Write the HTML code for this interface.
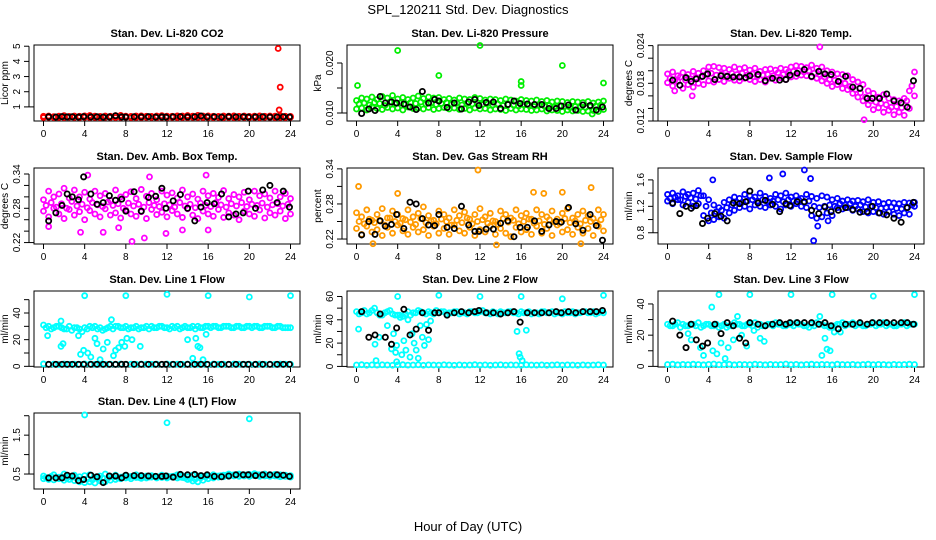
<!DOCTYPE html>
<html><head><meta charset="utf-8">
<style>
html,body{margin:0;padding:0;background:#fff;}
svg{display:block;font-family:"Liberation Sans",Arial,sans-serif;}
</style></head>
<body>
<svg id="chart" width="936" height="540" viewBox="0 0 936 540" xmlns="http://www.w3.org/2000/svg">
<rect width="936" height="540" fill="#fff"/>
<text x="468" y="14" text-anchor="middle" font-size="13">SPL_120211  Std. Dev. Diagnostics</text>
<text x="468" y="531" text-anchor="middle" font-size="13">Hour of Day (UTC)</text>
</svg>
<script>
const HOURS_C = [0,0.5,1,1.5,2,2.5,3,3.5,4,4.5,5,5.5,6,6.5,7,7.5,8,8.5,9,9.5,10,10.5,11,11.5,12,12.5,13,13.5,14,14.5,15,15.5,16,16.5,17,17.5,18,18.5,19,19.5,20,20.5,21,21.5,22,22.5,23,23.5,24];
const HOURS_Q = [0.25,0.75,1.25,1.75,2.25,2.75,3.25,3.75,4.25,4.75,5.25,5.75,6.25,6.75,7.25,7.75,8.25,8.75,9.25,9.75,10.25,10.75,11.25,11.75,12.25,12.75,13.25,13.75,14.25,14.75,15.25,15.75,16.25,16.75,17.25,17.75,18.25,18.75,19.25,19.75,20.25,20.75,21.25,21.75,22.25,22.75,23.25,23.75];
const HOURS_K = [0.5,1.2,1.8,2.3,2.8,3.4,3.9,4.6,5.2,5.8,6.4,7.0,7.6,8.0,8.8,9.5,10.2,10.9,11.5,11.9,12.6,13.3,14.0,14.7,15.3,15.9,16.6,17.3,18.0,18.7,19.4,19.9,20.6,21.3,22.0,22.7,23.3,23.9];
const X_TICKS = [0,4,8,12,16,20,24];

// CO2
const co2A = [0.38,0.4,0.36,0.39,0.42,0.37,0.4,0.38,0.41,0.43,0.39,0.37,0.4,0.38,0.42,0.44,0.39,0.37,0.4,0.41,0.38,0.37,0.4,0.42,0.39,0.38,0.41,0.4,0.43,0.39,0.44,0.4,0.41,0.38,0.37,0.4,0.39,0.41,0.38,0.4,0.37,0.39,0.41,0.38,0.4,0.39,0.42,0.38,0.37];
const co2B = [0.3,0.32,0.3,0.31,0.3,0.33,0.31,0.3,0.32,0.3,0.31,0.3,0.32,0.31,0.3,0.31,0.32,0.3,0.31,0.3,0.32,0.31,0.3,0.31,0.3,0.32,0.3,0.31,0.3,0.32,0.31,0.3,0.31,0.3,0.32,0.3,0.31,0.3,0.32,0.31,0.3,0.31,0.3,0.32,0.31,0.3,0.31,0.3,0.32];
const co2K = [0.35,0.33,0.36,0.34,0.35,0.33,0.36,0.34,0.35,0.33,0.34,0.42,0.34,0.33,0.35,0.34,0.36,0.33,0.34,0.33,0.35,0.36,0.34,0.35,0.4,0.34,0.35,0.33,0.36,0.34,0.35,0.33,0.34,0.35,0.33,0.34,0.35,0.33];
const co2Out = [[22.8,4.85],[23.0,2.3],[22.9,0.8]];

// Pressure
const presA = [0.0125,0.013,0.0128,0.0132,0.0127,0.0133,0.013,0.0135,0.0128,0.0131,0.0127,0.013,0.0134,0.0129,0.0132,0.013,0.0131,0.0127,0.0129,0.0126,0.013,0.0128,0.0127,0.0131,0.0129,0.0126,0.0128,0.0127,0.0125,0.0128,0.0126,0.0124,0.0127,0.0125,0.0124,0.0126,0.0123,0.0125,0.0122,0.0124,0.0123,0.0121,0.0123,0.0122,0.0121,0.0123,0.012,0.0122,0.0124];
const presB = [0.0108,0.011,0.0106,0.0112,0.0109,0.0107,0.0111,0.0108,0.011,0.0106,0.0112,0.0109,0.011,0.0108,0.0111,0.0107,0.0109,0.0111,0.0108,0.011,0.0107,0.0109,0.0106,0.011,0.0108,0.0109,0.0106,0.0108,0.0107,0.0105,0.0109,0.0106,0.0108,0.0107,0.0105,0.0106,0.0108,0.0104,0.0106,0.0105,0.0103,0.0106,0.0104,0.0105,0.0103,0.0104,0.0105,0.0103,0.0107];
const presC = [0.0118,0.012,0.0116,0.0121,0.0119,0.0115,0.0122,0.0118,0.012,0.0117,0.0121,0.0119,0.0122,0.0118,0.012,0.0117,0.0119,0.0121,0.0118,0.012,0.0116,0.0119,0.0118,0.012,0.0117,0.0119,0.0116,0.0118,0.0115,0.0117,0.0116,0.0114,0.0117,0.0115,0.0113,0.0116,0.0114,0.0115,0.0112,0.0114,0.0113,0.0111,0.0113,0.0112,0.0111,0.0113,0.0114,0.0116];
const presK = [0.0099,0.0108,0.0105,0.0133,0.012,0.0122,0.012,0.0118,0.0112,0.0107,0.0143,0.012,0.0127,0.0124,0.0111,0.012,0.0108,0.0122,0.0127,0.0115,0.0121,0.0122,0.0109,0.0117,0.0124,0.0119,0.0118,0.0117,0.0117,0.0109,0.0109,0.0114,0.0116,0.0106,0.0116,0.0115,0.0106,0.0112];
const presOut = [[0.1,0.0155],[4,0.0225],[8,0.0175],[12,0.0235],[16,0.0163],[16,0.0155],[20,0.0195],[24,0.016],[22.9,0.0098]];

// Li-820 Temp
const ltA = [0.0195,0.0198,0.0192,0.0197,0.0194,0.0199,0.0196,0.02,0.0206,0.0207,0.0205,0.0204,0.0202,0.0206,0.0203,0.0205,0.0201,0.0204,0.0199,0.0202,0.0203,0.0201,0.0204,0.0202,0.0206,0.0208,0.0207,0.0205,0.0209,0.0204,0.0206,0.02,0.0198,0.0195,0.0194,0.0192,0.0186,0.0182,0.0178,0.0168,0.0164,0.0158,0.0162,0.0156,0.0154,0.0152,0.0156,0.0168,0.0198];
const ltB = [0.0181,0.0176,0.0183,0.0172,0.0178,0.0174,0.018,0.0178,0.0184,0.0182,0.0186,0.0183,0.0188,0.0185,0.0184,0.0188,0.0186,0.0183,0.0186,0.0182,0.0188,0.0185,0.0189,0.0186,0.019,0.0191,0.0193,0.0192,0.019,0.0188,0.0184,0.018,0.0175,0.0178,0.0172,0.017,0.0164,0.0158,0.0152,0.0146,0.0138,0.0141,0.0134,0.0137,0.013,0.0134,0.0129,0.014,0.016];
const ltC = [0.0188,0.0186,0.019,0.0185,0.0187,0.0189,0.019,0.0194,0.0196,0.0193,0.0195,0.0192,0.0196,0.0194,0.0196,0.0193,0.0195,0.0191,0.0193,0.0194,0.0192,0.0197,0.0194,0.0198,0.0199,0.02,0.0198,0.02,0.0196,0.0194,0.019,0.0186,0.0185,0.0182,0.018,0.0175,0.017,0.0165,0.0158,0.0152,0.015,0.0148,0.0146,0.0142,0.0143,0.0141,0.0152,0.0176];
const ltK = [0.0185,0.0177,0.0189,0.0183,0.0187,0.0191,0.0195,0.0186,0.0192,0.0191,0.019,0.019,0.0189,0.0192,0.0194,0.0184,0.0188,0.0185,0.0186,0.0193,0.0196,0.0202,0.0191,0.0199,0.0195,0.0194,0.0183,0.0191,0.0174,0.0172,0.0156,0.0156,0.0156,0.0163,0.0152,0.0149,0.0142,0.0184];
const ltOut = [[14.8,0.0238],[19.1,0.0122],[2.4,0.016],[0.7,0.0168]];

// Amb box temp
const abA = [0.295,0.31,0.3,0.305,0.315,0.298,0.312,0.3,0.308,0.296,0.31,0.302,0.306,0.294,0.312,0.3,0.304,0.309,0.297,0.313,0.301,0.306,0.295,0.31,0.303,0.307,0.298,0.312,0.3,0.305,0.296,0.31,0.302,0.306,0.299,0.311,0.297,0.304,0.3,0.308,0.295,0.31,0.302,0.305,0.298,0.31,0.3,0.306,0.297];
const abB = [0.275,0.265,0.28,0.27,0.262,0.278,0.268,0.274,0.26,0.276,0.27,0.265,0.279,0.268,0.272,0.263,0.277,0.27,0.266,0.274,0.262,0.278,0.269,0.273,0.265,0.276,0.27,0.264,0.279,0.268,0.262,0.275,0.27,0.266,0.278,0.264,0.272,0.268,0.26,0.275,0.27,0.266,0.277,0.263,0.272,0.268,0.275,0.262,0.27];
const abC = [0.285,0.29,0.282,0.288,0.28,0.292,0.284,0.287,0.281,0.29,0.286,0.283,0.291,0.285,0.288,0.28,0.289,0.284,0.287,0.282,0.29,0.285,0.283,0.288,0.286,0.282,0.29,0.284,0.287,0.281,0.289,0.285,0.283,0.29,0.286,0.282,0.288,0.284,0.29,0.283,0.287,0.285,0.289,0.282,0.286,0.288,0.284,0.287];
const abK = [0.258,0.272,0.285,0.305,0.3,0.295,0.335,0.305,0.287,0.29,0.302,0.294,0.296,0.275,0.309,0.275,0.299,0.301,0.315,0.28,0.293,0.304,0.28,0.258,0.282,0.29,0.288,0.305,0.265,0.27,0.272,0.31,0.28,0.312,0.32,0.29,0.31,0.282];
const abOut = [[8.6,0.222],[9.8,0.228],[3.6,0.238],[5.8,0.238],[11.9,0.236],[0.5,0.248],[16,0.242],[13.5,0.242],[7.3,0.246],[4.3,0.338],[10.3,0.335],[15.8,0.338]];

// RH
const rhA = [0.265,0.258,0.27,0.252,0.262,0.272,0.256,0.268,0.262,0.255,0.27,0.258,0.264,0.275,0.26,0.252,0.268,0.262,0.256,0.27,0.26,0.266,0.254,0.262,0.272,0.258,0.264,0.25,0.268,0.262,0.256,0.27,0.26,0.264,0.254,0.27,0.262,0.258,0.268,0.254,0.264,0.272,0.256,0.262,0.268,0.26,0.255,0.27,0.262];
const rhB = [0.238,0.228,0.242,0.232,0.236,0.226,0.24,0.23,0.244,0.234,0.228,0.24,0.232,0.236,0.226,0.242,0.23,0.238,0.228,0.244,0.234,0.23,0.24,0.226,0.236,0.232,0.242,0.228,0.238,0.23,0.224,0.24,0.232,0.236,0.228,0.242,0.23,0.238,0.226,0.244,0.232,0.236,0.228,0.24,0.23,0.238,0.226,0.242,0.234];
const rhC = [0.25,0.246,0.254,0.248,0.252,0.244,0.256,0.25,0.247,0.253,0.249,0.245,0.255,0.248,0.251,0.246,0.254,0.25,0.244,0.252,0.248,0.256,0.246,0.25,0.253,0.247,0.251,0.245,0.255,0.249,0.252,0.246,0.25,0.254,0.247,0.251,0.245,0.253,0.249,0.247,0.255,0.248,0.251,0.246,0.252,0.25,0.248,0.253];
const rhK = [0.227,0.25,0.228,0.251,0.242,0.245,0.262,0.238,0.283,0.28,0.255,0.244,0.243,0.262,0.24,0.238,0.276,0.244,0.233,0.233,0.237,0.237,0.247,0.251,0.224,0.24,0.24,0.251,0.233,0.244,0.25,0.249,0.274,0.246,0.235,0.262,0.243,0.218];
const rhOut = [[0.2,0.31],[4,0.298],[11.8,0.338],[17.2,0.3],[18.2,0.298],[22.8,0.308],[1.6,0.212],[12,0.205],[13.6,0.21],[21.8,0.212],[20,0.3]];

// Sample flow
const sfA = [1.38,1.4,1.36,1.42,1.38,1.4,1.44,1.36,1.3,1.22,1.18,1.26,1.3,1.34,1.32,1.38,1.36,1.34,1.4,1.35,1.32,1.38,1.36,1.4,1.34,1.36,1.32,1.38,1.35,1.32,1.36,1.34,1.3,1.32,1.28,1.3,1.28,1.29,1.27,1.3,1.26,1.27,1.24,1.26,1.25,1.24,1.26,1.25,1.26];
const sfB = [1.28,1.24,1.3,1.22,1.26,1.2,1.24,1.06,0.98,1.0,1.04,1.02,1.1,1.14,1.18,1.2,1.16,1.22,1.2,1.18,1.22,1.2,1.16,1.22,1.2,1.24,1.2,1.18,1.06,1.02,1.04,1.1,1.06,1.18,1.16,1.18,1.14,1.16,1.12,1.1,1.12,1.1,1.08,1.12,1.08,1.06,1.1,1.08,1.2];
const sfC = [1.32,1.34,1.3,1.35,1.33,1.31,1.36,1.2,1.1,1.12,1.14,1.18,1.22,1.26,1.26,1.28,1.3,1.28,1.3,1.27,1.28,1.3,1.27,1.3,1.28,1.3,1.26,1.28,1.2,1.18,1.2,1.22,1.2,1.24,1.22,1.24,1.2,1.22,1.19,1.2,1.18,1.17,1.18,1.19,1.17,1.16,1.18,1.22];
const sfK = [1.25,1.09,1.2,1.17,1.21,0.94,1.02,1.09,1.05,0.98,1.25,1.24,1.27,1.43,1.25,1.29,1.23,1.12,1.24,1.21,1.27,1.27,1.14,1.09,1.19,1.12,1.14,1.18,1.15,1.11,1.12,1.2,1.1,1.07,1.02,0.96,1.18,1.26];
const sfOut = [[14.2,0.68],[13.3,1.75],[11.2,1.69],[9.9,1.63],[4.4,1.6],[13.9,1.62],[15.6,0.98],[14.6,0.9]];

// Line 1
const l1A = [31,30,29,30,28,30,29,28,29,30,30,29,28,30,30,29,30,29,30,29,30,30,29,30,29,30,30,29,29,30,30,29,30,30,29,30,30,29,30,29,30,30,29,30,30,29,30,29,29];
const l1B = [1.8,1.5,1.6,1.4,1.7,1.5,1.6,1.5,1.8,1.6,1.5,1.7,1.5,1.6,1.4,1.7,1.5,1.6,1.5,1.7,1.6,1.5,1.6,1.4,1.7,1.5,1.6,1.5,1.7,1.6,1.5,1.6,1.4,1.7,1.5,1.6,1.5,1.7,1.6,1.5,1.6,1.4,1.7,1.5,1.6,1.5,1.7,1.6,1.5];
const l1C = [29,28,30,29,28,27,29,26,28,29,28,27,29,28,30,29,28,29,28,29,28,29,30,29,28,29,28,30,29,28,29,30,29,30,29,30,29,30,29,30,29,30,29,30,29,30,29,29];
const l1K = [1.5,1.5,1.5,1.5,1.5,1.5,1.5,1.5,1.5,1.5,1.5,1.5,1.5,1.5,1.5,1.5,1.5,1.5,1.5,1.5,1.5,1.5,1.5,1.5,1.5,1.5,1.5,1.5,1.5,1.5,1.5,1.5,1.5,1.5,1.5,1.5,1.5,1.5];
const l1Out = [[4,53],[8,53],[12,54],[16,53],[20,52],[24,53],[1.7,34],[1.7,15],[1.9,17],[0.4,23],[3.6,9],[3.9,12],[4.3,10],[4.6,7],[5,21],[5.2,17],[5.5,5],[5.8,13],[6.2,18],[6.6,35],[6.8,8],[7,12],[7.3,14],[7.6,18],[7.9,15],[8.1,21],[8.6,20],[9.4,15],[14,20],[14.5,6],[14.8,21],[15,15],[15.2,14],[15.5,5],[15.8,24],[3.4,23]];

// Line 2
const l2A = [47,46,45,48,46,44,47,45,44,43,47,46,48,46,47,45,46,47,46,47,45,46,47,46,47,46,45,46,47,46,47,46,47,46,45,46,47,46,47,46,45,46,47,46,47,46,47,46,46];
const l2B = [1.2,1.5,1,1.3,1.1,1.4,1.2,1,1.3,1.5,1.1,1.2,1.4,1,1.3,1.2,1.1,1.4,1.2,1,1.3,1.1,1.2,1.5,1.1,1.3,1,1.2,1.4,1.1,1.3,1.2,1,1.4,1.2,1.1,1.3,1,1.2,1.4,1.1,1.3,1.2,1,1.3,1.1,1.2,1.4,1.2];
const l2C = [45,48,46,50,44,46,48,44,42,45,44,46,47,45,46,48,47,45,46,47,46,45,47,46,48,46,47,45,46,47,46,45,46,47,46,45,47,46,45,46,47,46,45,46,47,46,45,47];
const l2K = [47,25,27,45,25,19,33,49,27,32,46,31,46,46,44,46,47,46,47,48,46,46,45,46,47,38,46,46,46,46,47,46,47,46,47,47,47,48];
const l2Out = [[4,60],[8,61],[12,60],[16,60],[20,58],[24,61],[0.2,32],[1.8,19],[1.9,5],[2.2,25],[3,35],[3.4,15],[3.6,28],[3.8,12],[4.2,44],[4.4,10],[4.6,22],[4.8,14],[5,40],[5.2,8],[5.4,28],[5.6,20],[5.8,14],[6,7],[6.2,35],[6.4,25],[6.6,18],[6.8,36],[7,23],[7.2,39],[3.9,4],[3.9,18],[15.6,30],[15.8,11],[15.9,8],[16.1,5],[16.5,31]];

// Line 3
const l3A = [27,26,28,27,26,27,28,26,27,26,25,27,26,28,27,26,27,28,27,26,27,28,27,26,27,28,27,26,27,28,27,26,25,27,28,27,28,27,26,27,28,27,28,27,26,27,28,27,27];
const l3B = [1.2,1.4,1,1.3,1.1,1.4,1.2,1,1.3,1.5,1.1,1.2,1.4,1,1.3,1.2,1.1,1.4,1.2,1,1.3,1.1,1.2,1.5,1.1,1.3,1,1.2,1.4,1.1,1.3,1.2,1,1.4,1.2,1.1,1.3,1,1.2,1.4,1.1,1.3,1.2,1,1.3,1.1,1.2,1.4,1.2];
const l3C = [26,27,25,26,27,26,25,27,26,27,26,25,26,27,26,27,26,25,26,27,26,27,26,27,26,27,26,25,26,27,26,25,26,27,26,27,26,27,26,27,26,27,26,27,26,27,26,27];
const l3K = [29,20,12,27,17,13,15,27,21,28,26,18,15,28,27,26,27,28,27,28,28,28,28,27,28,26,24,27,27,28,27,28,28,28,28,28,28,27];
const l3Out = [[5,46],[8,46],[12,46],[16,46],[20,45],[24,46],[4.3,38],[3.2,12],[3.5,7],[4.4,10],[4.8,8],[5.2,15],[5.6,5],[5.9,12],[6.4,17],[6.8,32],[7.2,20],[7.7,13],[8.4,23],[9,18],[9.4,16],[14.8,32],[15,7],[15.3,18],[15.5,11],[15.8,10],[16.2,22],[16.8,22],[2,21],[2.3,17]];

// Line 4
const l4A = [0.45,0.4,0.48,0.42,0.5,0.44,0.47,0.43,0.46,0.48,0.42,0.45,0.5,0.44,0.47,0.42,0.46,0.44,0.48,0.43,0.45,0.46,0.42,0.47,0.45,0.44,0.48,0.46,0.43,0.47,0.45,0.44,0.46,0.48,0.45,0.47,0.5,0.48,0.5,0.47,0.49,0.51,0.48,0.5,0.47,0.49,0.48,0.47,0.46];
const l4B = [0.38,0.36,0.35,0.38,0.34,0.36,0.33,0.3,0.28,0.3,0.27,0.32,0.3,0.34,0.36,0.38,0.4,0.38,0.41,0.39,0.4,0.42,0.4,0.41,0.4,0.42,0.4,0.41,0.36,0.32,0.3,0.34,0.38,0.4,0.42,0.43,0.44,0.45,0.44,0.45,0.44,0.46,0.44,0.45,0.44,0.45,0.43,0.44,0.42];
const l4C = [0.41,0.44,0.4,0.43,0.39,0.41,0.38,0.36,0.37,0.35,0.38,0.4,0.39,0.42,0.4,0.43,0.42,0.44,0.41,0.43,0.42,0.44,0.43,0.44,0.43,0.45,0.42,0.4,0.38,0.37,0.4,0.42,0.44,0.45,0.46,0.47,0.47,0.48,0.47,0.48,0.47,0.48,0.47,0.46,0.47,0.45,0.45,0.44];
const l4K = [0.4,0.4,0.4,0.47,0.45,0.33,0.36,0.47,0.43,0.28,0.45,0.45,0.4,0.47,0.46,0.46,0.45,0.44,0.44,0.45,0.42,0.49,0.48,0.49,0.46,0.48,0.44,0.43,0.45,0.48,0.48,0.48,0.46,0.48,0.48,0.48,0.47,0.44];
const l4Out = [[4,2.02],[12,1.82],[20,1.92]];

const svg = document.getElementById('chart');
const NS = 'http://www.w3.org/2000/svg';
const COLS = [34,347,658], ROWS = [45,168,291,413], PW = 266, PH = 76;

function mk(tag, attrs, parent) {
  const e = document.createElementNS(NS, tag);
  for (const k in attrs) e.setAttribute(k, attrs[k]);
  (parent || svg).appendChild(e);
  return e;
}

function panel(cfg) {
  const L = COLS[cfg.col], T = ROWS[cfg.row];
  const g = mk('g', {});
  
  
  const xs = h => L + 9.5 + h * (247 / 24);
  const ys = v => T + PH - (v - cfg.ymin) / (cfg.ymax - cfg.ymin) * PH;
  const t = mk('text', {x: L + PW / 2, y: T - 8, 'text-anchor': 'middle', 'font-size': 11, 'font-weight': 'bold'}, g);
  t.textContent = cfg.title;
  
  
  const box = mk('rect', {x: L, y: T, width: PW, height: PH, fill: 'none', stroke: '#000', 'stroke-width': 1}, g);
  
  
  const xa = mk('g', {}, g);
  
  
  mk('line', {x1: xs(0), x2: xs(24), y1: T + PH, y2: T + PH, stroke: '#000'}, xa);
  X_TICKS.forEach(h => {
    mk('line', {x1: xs(h), x2: xs(h), y1: T + PH, y2: T + PH + 5, stroke: '#000'}, xa);
    const tx = mk('text', {x: xs(h), y: T + PH + 16, 'text-anchor': 'middle', 'font-size': 10}, xa);
    tx.textContent = h;
  });
  const ya = mk('g', {}, g);
  
  
  const yt = cfg.yticks;
  mk('line', {x1: L, x2: L - 5, y1: ys(yt[0]), y2: ys(yt[0]), stroke: '#000'}, ya);
  mk('line', {x1: L - 5, x2: L - 5, y1: ys(yt[0]), y2: ys(yt[yt.length - 1]), stroke: '#000'}, ya);
  yt.forEach((v, i) => {
    mk('line', {x1: L - 5, x2: L - 10, y1: ys(v), y2: ys(v), stroke: '#000'}, ya);
    const lab = cfg.ylabels[i];
    if (lab !== '') {
      const tx = mk('text', {x: L - 14, y: ys(v), 'text-anchor': 'middle', 'font-size': 10, transform: `rotate(-90 ${L - 14} ${ys(v)})`}, ya);
      tx.textContent = lab;
    }
  });
  const yl = mk('text', {x: L - 26, y: T + PH / 2, 'text-anchor': 'middle', 'font-size': 10, transform: `rotate(-90 ${L - 26} ${T + PH / 2})`}, g);
  yl.textContent = cfg.ylab;
  
  
  const pts = mk('g', {}, g);
  
  
  const dot = (h, v, col, w, r) => {
    const y = ys(v);
    if (y < T - 2 || y > T + PH + 2) return;
    const c = mk('circle', {cx: xs(h), cy: y, r: r, fill: 'none', stroke: col, 'stroke-width': w}, pts);
    
    
  };
  cfg.series.forEach(s => s.forEach((v, i) => dot(HOURS_C[i], v, cfg.color, 1.8, 2.5)));
  (cfg.seriesQ || []).forEach(s => s.forEach((v, i) => dot(HOURS_Q[i], v, cfg.color, 1.8, 2.5)));
  cfg.out.forEach(p => dot(p[0], p[1], cfg.color, 1.8, 2.5));
  cfg.black.forEach((v, i) => dot(HOURS_K[i], v, '#000', 1.8, 2.6));
}

panel({name: 'panel-co2', title: 'Stan. Dev. Li-820 CO2', col: 0, row: 0, ymin: 0.07, ymax: 5.08, yticks: [1,2,3,4,5], ylabels: ['1','2','3','4','5'], ylab: 'Licor ppm', color: '#ff0000', series: [co2A, co2B], out: co2Out, black: co2K});
panel({name: 'panel-pressure', title: 'Stan. Dev. Li-820 Pressure', col: 1, row: 0, ymin: 0.0084, ymax: 0.0236, yticks: [0.010,0.015,0.020], ylabels: ['0.010','','0.020'], ylab: 'kPa', color: '#00ee00', series: [presA, presB], seriesQ: [presC], out: presOut, black: presK});
panel({name: 'panel-li820-temp', title: 'Stan. Dev. Li-820 Temp.', col: 2, row: 0, ymin: 0.012, ymax: 0.0241, yticks: [0.012,0.014,0.016,0.018,0.020,0.022,0.024], ylabels: ['0.012','','','0.018','','','0.024'], ylab: 'degrees C', color: '#ff00ff', series: [ltA, ltB], seriesQ: [ltC], out: ltOut, black: ltK});
panel({name: 'panel-amb-box-temp', title: 'Stan. Dev. Amb. Box Temp.', col: 0, row: 1, ymin: 0.2175, ymax: 0.3505, yticks: [0.22,0.24,0.26,0.28,0.30,0.32,0.34], ylabels: ['0.22','','','0.28','','','0.34'], ylab: 'degrees C', color: '#ff00ff', series: [abA, abB], seriesQ: [abC], out: abOut, black: abK});
panel({name: 'panel-gas-stream-rh', title: 'Stan. Dev. Gas Stream RH', col: 1, row: 1, ymin: 0.2115, ymax: 0.3415, yticks: [0.22,0.25,0.28,0.31,0.34], ylabels: ['0.22','','0.28','','0.34'], ylab: 'percent', color: '#ff9a00', series: [rhA, rhB], seriesQ: [rhC], out: rhOut, black: rhK});
panel({name: 'panel-sample-flow', title: 'Stan. Dev. Sample Flow', col: 2, row: 1, ymin: 0.63, ymax: 1.78, yticks: [0.8,1.0,1.2,1.4,1.6], ylabels: ['0.8','','1.2','','1.6'], ylab: 'ml/min', color: '#0000ff', series: [sfA, sfB], seriesQ: [sfC], out: sfOut, black: sfK});
panel({name: 'panel-line1-flow', title: 'Stan. Dev. Line 1 Flow', col: 0, row: 2, ymin: -0.5, ymax: 56.5, yticks: [0,10,20,30,40,50], ylabels: ['0','','20','','40',''], ylab: 'ml/min', color: '#00ffff', series: [l1A, l1B], seriesQ: [l1C], out: l1Out, black: l1K});
panel({name: 'panel-line2-flow', title: 'Stan. Dev. Line 2 Flow', col: 1, row: 2, ymin: -0.5, ymax: 64.7, yticks: [0,10,20,30,40,50,60], ylabels: ['0','','20','','40','','60'], ylab: 'ml/min', color: '#00ffff', series: [l2A, l2B], seriesQ: [l2C], out: l2Out, black: l2K});
panel({name: 'panel-line3-flow', title: 'Stan. Dev. Line 3 Flow', col: 2, row: 2, ymin: -0.4, ymax: 48.3, yticks: [0,10,20,30,40], ylabels: ['0','','20','','40'], ylab: 'ml/min', color: '#00ffff', series: [l3A, l3B], seriesQ: [l3C], out: l3Out, black: l3K});
panel({name: 'panel-line4-flow', title: 'Stan. Dev. Line 4 (LT) Flow', col: 0, row: 3, ymin: 0.115, ymax: 2.07, yticks: [0.5,1.0,1.5,2.0], ylabels: ['0.5','','1.5',''], ylab: 'ml/min', color: '#00ffff', series: [l4A, l4B], seriesQ: [l4C], out: l4Out, black: l4K});
</script>
</body></html>
